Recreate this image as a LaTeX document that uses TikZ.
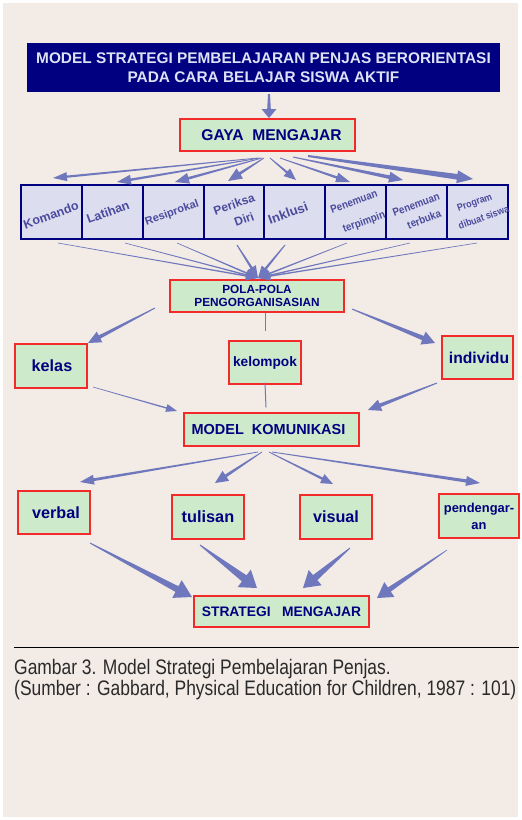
\documentclass[tikz,border=0pt]{standalone}
\usepackage{fontspec}
\setmainfont{Liberation Sans}
\newfontfamily\capfont[FakeStretch=0.83]{Liberation Sans}
\newfontfamily\condfont[FakeStretch=0.88]{Liberation Sans}
\usetikzlibrary{calc}
\definecolor{bg}{HTML}{F2EBE6}
\definecolor{navy}{HTML}{000080}
\definecolor{titletxt}{HTML}{DDE2F5}
\definecolor{gfill}{HTML}{CDEACB}
\definecolor{rborder}{HTML}{F22A2A}
\definecolor{lav}{HTML}{DCDDEF}
\definecolor{slate}{HTML}{4B4B9E}
\definecolor{arrc}{HTML}{6F77BD}
\definecolor{captxt}{HTML}{2A2A2A}
% tapered arrow: start, end, tail half-width, shaft half-width, head half-width, head length
\newcommand\tarr[6]{%
  \path ($(#2)!#6!(#1)$) coordinate (tarrh);
  \fill[arrc] ($(#1)!#3!90:(#2)$) -- ($(tarrh)!#4!90:(#2)$) -- ($(tarrh)!#5!90:(#2)$) -- (#2)
    -- ($(tarrh)!#5!-90:(#2)$) -- ($(tarrh)!#4!-90:(#2)$) -- ($(#1)!#3!-90:(#2)$) -- cycle;}
\tikzset{
  gbox/.style={draw=rborder, line width=1.4pt, fill=gfill, text=navy, inner sep=0pt, align=center},
  sbox/.style={draw=navy, line width=1.2pt, fill=lav, inner sep=0pt},
  stxt/.style={text=slate, rotate=20, inner sep=0pt, align=center},
  conn/.style={draw=arrc, line width=1pt},
  fs/.style={font=\bfseries\fontsize{#1}{#1}\selectfont},
  cfs/.style={font=\condfont\bfseries\fontsize{#1}{#1}\selectfont},
}
\begin{document}
\begin{tikzpicture}[x=1pt,y=-1pt]
\useasboundingbox (0,0) rectangle (522,820);
\fill[white] (0,0) rectangle (522,820);
\fill[bg] (3,3) rectangle (518,817);

% title
\node[fill=navy, inner sep=0pt, minimum width=473, minimum height=49, text=titletxt, align=center,
      font=\bfseries\fontsize{15.4}{19}\selectfont] (title) at (263.5,67.5)
      {MODEL STRATEGI PEMBELAJARAN PENJAS BERORIENTASI\\PADA CARA BELAJAR SISWA AKTIF};

% main boxes
\node[gbox, fs=15.6, minimum width=175, minimum height=32] (gaya) at (267.5,135) {\hspace*{8pt}GAYA\ \ MENGAJAR};
\node[gbox, fs=11.8, minimum width=174, minimum height=32] (pola) at (257,296) {POLA-POLA\\[2pt]PENGORGANISASIAN};
\node[gbox, fs=16.2, minimum width=72, minimum height=44] (kelas) at (51,366) {\hspace*{2pt}kelas};
\node[gbox, fs=13.7, minimum width=72, minimum height=43] (kelompok) at (265,362.5) {kelompok};
\node[gbox, fs=15.7, minimum width=71, minimum height=43] (individu) at (477.5,357.5) {\hspace*{3pt}individu};
\node[gbox, fs=14.5, minimum width=175, minimum height=33] (model) at (271.5,429.5) {MODEL\ \ KOMUNIKASI\hspace*{6pt}};
\node[gbox, fs=16.2, minimum width=72, minimum height=43] (verbal) at (54,512.5) {\hspace*{4pt}verbal};
\node[gbox, fs=16.3, minimum width=72, minimum height=44] (tulisan) at (208,517) {tulisan};
\node[gbox, fs=16.2, minimum width=72, minimum height=44] (visual) at (336,517) {visual};
\node[gbox, fs=12.9, minimum width=80, minimum height=44] (pend) at (479,516) {pendengar-\\[4pt]an};
\node[gbox, fs=13.8, minimum width=175, minimum height=31] (strat) at (281.5,611.5) {STRATEGI\ \ \ MENGAJAR};

% style boxes
\node[sbox, minimum width=61, minimum height=54] (b1) at (51.5,212) {};
\node[sbox, minimum width=61, minimum height=54] (b2) at (112.5,212) {};
\node[sbox, minimum width=61, minimum height=54] (b3) at (173.5,212) {};
\node[sbox, minimum width=60, minimum height=54] (b4) at (234,212) {};
\node[sbox, minimum width=61, minimum height=54] (b5) at (294.5,212) {};
\node[sbox, minimum width=61, minimum height=54] (b6) at (355.5,212) {};
\node[sbox, minimum width=61, minimum height=54] (b7) at (416.5,212) {};
\node[sbox, minimum width=61, minimum height=54] (b8) at (477.5,212) {};
\node[stxt, fs=12.5] (l1) at (51,215) {Komando};
\node[stxt, fs=12.5] (l2) at (108,212) {Latihan};
\node[stxt, fs=11] (l3) at (172,213) {Resiprokal};
\node[stxt, fs=12] (l4) at (237,212.5) {Periksa\\[5.5pt]\hspace*{8.6pt}Diri};
\node[stxt, fs=13] (l5) at (288,213) {Inklusi};
\node[stxt, cfs=11] (l6) at (358,213) {Penemuan\\[11pt]\hspace*{5.2pt}terpimpin};
\node[stxt, cfs=11] (l7) at (419,212.5) {Penemuan\\[5.8pt]\hspace*{4.8pt}terbuka};
\node[stxt, cfs=10] (l8) at (477.5,210.5) {Program\\[7.2pt]\hspace*{6.8pt}dibuat siswa};

% arrow end points
\coordinate (a0s) at (269,94);  \coordinate (a0e) at (269,118);
\coordinate (g1s) at (258,158); \coordinate (g1e) at (53,178);
\coordinate (g2s) at (260,158); \coordinate (g2e) at (117,182);
\coordinate (g3s) at (262,158); \coordinate (g3e) at (175,182);
\coordinate (g4s) at (264,158); \coordinate (g4e) at (228,181);
\coordinate (g5s) at (270,158); \coordinate (g5e) at (296,180);
\coordinate (g6s) at (280,158); \coordinate (g6e) at (350,182);
\coordinate (g7s) at (293,157); \coordinate (g7e) at (403,180);
\coordinate (g8s) at (308,156); \coordinate (g8e) at (473,179);
\coordinate (pe) at (258,278);
\coordinate (p1) at (58,243);  \coordinate (p2) at (125,243);
\coordinate (p3) at (177,243); \coordinate (p4) at (237,245);
\coordinate (p5) at (285,245); \coordinate (p6) at (347,243);
\coordinate (p7) at (410,243); \coordinate (p8) at (477,243);
\coordinate (k1s) at (155,308); \coordinate (k1e) at (88,343);
\coordinate (k3s) at (352,309); \coordinate (k3e) at (435,343);
\coordinate (m1s) at (93,387);  \coordinate (m1e) at (177,411);
\coordinate (m3s) at (437,383); \coordinate (m3e) at (368,410);
\coordinate (c1s) at (258,452); \coordinate (c1e) at (80,482);
\coordinate (c2s) at (262,452); \coordinate (c2e) at (215,483);
\coordinate (c3s) at (269,452); \coordinate (c3e) at (333,484);
\coordinate (c4s) at (272,452); \coordinate (c4e) at (480,483);
\coordinate (s1s) at (90,543);  \coordinate (s1e) at (192,597);
\coordinate (s2s) at (200,545); \coordinate (s2e) at (257,588);
\coordinate (s3s) at (350,548); \coordinate (s3e) at (303,588);
\coordinate (s4s) at (447,550); \coordinate (s4e) at (377,598);

% arrows
\tarr{a0s}{a0e}{1pt}{1.8pt}{7.5pt}{9pt}
\tarr{g1s}{g1e}{0.4pt}{1.1pt}{4.5pt}{14pt}
\tarr{g2s}{g2e}{0.4pt}{1.2pt}{5pt}{14pt}
\tarr{g3s}{g3e}{0.4pt}{1.3pt}{5.5pt}{14pt}
\tarr{g4s}{g4e}{0.4pt}{1.4pt}{6pt}{14pt}
\tarr{g5s}{g5e}{0.4pt}{1.1pt}{5pt}{12pt}
\tarr{g6s}{g6e}{0.4pt}{1.2pt}{5pt}{14pt}
\tarr{g7s}{g7e}{0.5pt}{1.8pt}{5.5pt}{14pt}
\tarr{g8s}{g8e}{1pt}{2.8pt}{6.5pt}{16pt}
\tarr{p1}{pe}{0.3pt}{0.7pt}{4.5pt}{12pt}
\tarr{p2}{pe}{0.3pt}{0.7pt}{4.5pt}{12pt}
\tarr{p3}{pe}{0.3pt}{0.8pt}{4.5pt}{12pt}
\tarr{p4}{pe}{0.5pt}{1.2pt}{5pt}{12pt}
\tarr{p5}{pe}{0.5pt}{1.2pt}{5pt}{12pt}
\tarr{p6}{pe}{0.3pt}{0.8pt}{4.5pt}{12pt}
\tarr{p7}{pe}{0.3pt}{0.7pt}{4.5pt}{12pt}
\tarr{p8}{pe}{0.3pt}{0.7pt}{4.5pt}{12pt}
\tarr{k1s}{k1e}{0.5pt}{1.8pt}{6pt}{13pt}
\tarr{k3s}{k3e}{0.5pt}{2.3pt}{7pt}{13pt}
\draw[conn] (pola.south -| kelompok.north) -- ($(kelompok.north)+(0,-9)$);
\tarr{m1s}{m1e}{0.3pt}{0.7pt}{4pt}{11pt}
\draw[conn] ($(kelompok.south)+(0,-2)$) -- ($(model.north -| kelompok.south)+(1,-5)$);
\tarr{m3s}{m3e}{0.5pt}{1.8pt}{6pt}{13pt}
\tarr{c1s}{c1e}{0.4pt}{1.4pt}{5pt}{14pt}
\tarr{c2s}{c2e}{0.4pt}{1.5pt}{6pt}{13pt}
\tarr{c3s}{c3e}{0.4pt}{1.2pt}{5pt}{12pt}
\tarr{c4s}{c4e}{0.4pt}{1.6pt}{5pt}{14pt}
\tarr{s1s}{s1e}{0.5pt}{3.2pt}{10pt}{17pt}
\tarr{s2s}{s2e}{0.5pt}{3.8pt}{11pt}{16pt}
\tarr{s3s}{s3e}{0.5pt}{3.3pt}{10pt}{16pt}
\tarr{s4s}{s4e}{0.3pt}{2.5pt}{9pt}{15pt}

% caption
\coordinate (rl) at (14,647); \coordinate (rr) at (519,647);
\draw[black, line width=1pt] (rl) -- (rr);
\node[anchor=base west, inner sep=0pt, text=captxt, font=\capfont\fontsize{21}{21}\selectfont] (cap1) at (14,674)
  {Gambar 3. Model Strategi Pembelajaran Penjas.};
\node[anchor=base west, inner sep=0pt, text=captxt, font=\capfont\fontsize{21}{21}\selectfont] (cap2) at (14,695)
  {(Sumber : Gabbard, Physical Education for Children, 1987 : 101)};
\end{tikzpicture}
\end{document}
